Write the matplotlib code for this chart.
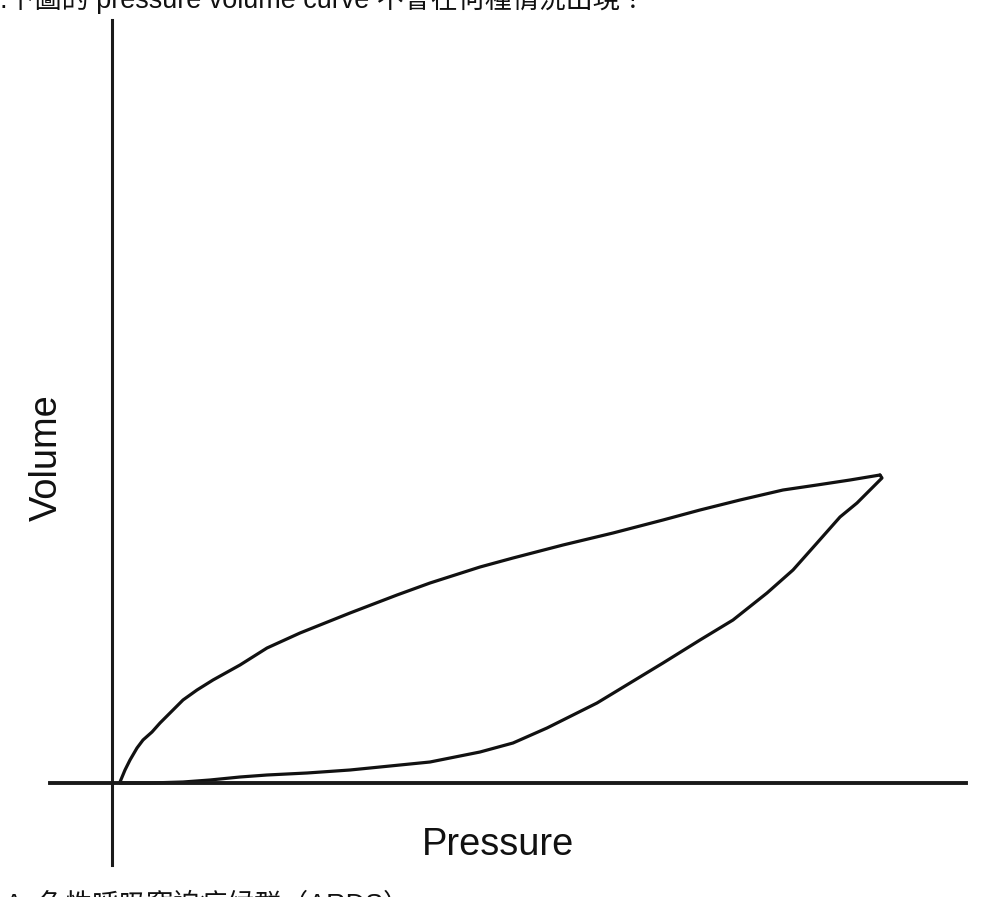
import matplotlib
matplotlib.use("Agg")
import matplotlib.pyplot as plt

# ---- data (arbitrary units: pressure, volume) ----
upper_pressure = [0.8, 1.3, 1.8, 2.5, 3.1, 4.0, 4.8, 5.8, 7.1, 8.5, 10.1, 12.8, 15.5, 18.8, 23.8, 28.5,
                  31.8, 36.8, 40.1, 45.1, 50.1, 55.1, 58.8, 62.8, 67.1, 70.5, 73.8, 76.8]
upper_volume   = [0.1, 1.3, 2.3, 3.5, 4.3, 5.1, 6.0, 7.0, 8.3, 9.3, 10.3, 11.8, 13.5, 15.0, 17.0, 18.8,
                  20.0, 21.6, 22.5, 23.8, 25.0, 26.3, 27.3, 28.3, 29.3, 29.8, 30.3, 30.8]
lower_pressure = [76.8, 77.0, 76.1, 74.5, 72.8, 70.5, 68.1, 65.5, 62.1, 58.8, 55.1, 51.8, 48.5, 43.5,
                  40.1, 36.8, 31.8, 23.8, 19.5, 15.5, 12.8, 9.8, 7.1, 3.8, 0.8]
lower_volume   = [30.8, 30.5, 29.6, 28.0, 26.6, 24.0, 21.3, 19.0, 16.3, 14.3, 12.0, 10.0, 8.0, 5.5,
                  4.0, 3.1, 2.1, 1.3, 1.0, 0.8, 0.6, 0.3, 0.1, 0.0, 0.0]

question_text = ".下圖的 pressure volume curve 不會在何種情況出現？"
option_text = "A. 急性呼吸窘迫症候群（ARDS）"
x_label = "Pressure"
y_label = "Volume"

W, H = 988, 897
fig = plt.figure(figsize=(W / 100, H / 100), dpi=100)
ax = fig.add_axes([0, 0, 1, 1])
ax.set_xlim(-11.2, (W - 112) / 10)
ax.set_ylim(-(H - 783) / 10, 78.3)

line_kw = dict(color="#111111", lw=2.3, solid_capstyle="round", solid_joinstyle="round")
ax.plot(upper_pressure, upper_volume, **line_kw)
ax.plot(lower_pressure, lower_volume, **line_kw)

for s in ["top", "right"]:
    ax.spines[s].set_visible(False)
ax.spines["left"].set_position(("data", 0))
ax.spines["bottom"].set_position(("data", 0))
ax.spines["left"].set_bounds(-8.2, 76.3)
ax.spines["bottom"].set_bounds(-6.2, 85.4)
ax.spines["left"].set_linewidth(2.2)
ax.spines["bottom"].set_linewidth(2.8)
ax.spines["left"].set_color("#1a1a1a")
ax.spines["bottom"].set_color("#1a1a1a")
ax.set_xticks([])
ax.set_yticks([])
ax.patch.set_visible(False)

fam = ["Liberation Sans", "Noto Sans CJK TC", "DejaVu Sans"]
fs = 27 * 72 / 100

ax.text(38.6, -6.2, x_label, ha="center", va="center", fontsize=27.4, family=fam, color="#111111")
ax.text(-6.5, 32.5, y_label, ha="center", va="center", rotation=90, fontsize=27.4, family=fam, color="#111111")

fig.text(0 / W, 1 - 8 / H, question_text, ha="left", va="baseline", fontsize=fs, family=fam, color="#111111")
fig.text(5 / W, 1 - 912 / H, option_text, ha="left", va="baseline", fontsize=fs, family=fam, color="#111111")

fig.savefig("out.png", dpi=100, facecolor="white")
